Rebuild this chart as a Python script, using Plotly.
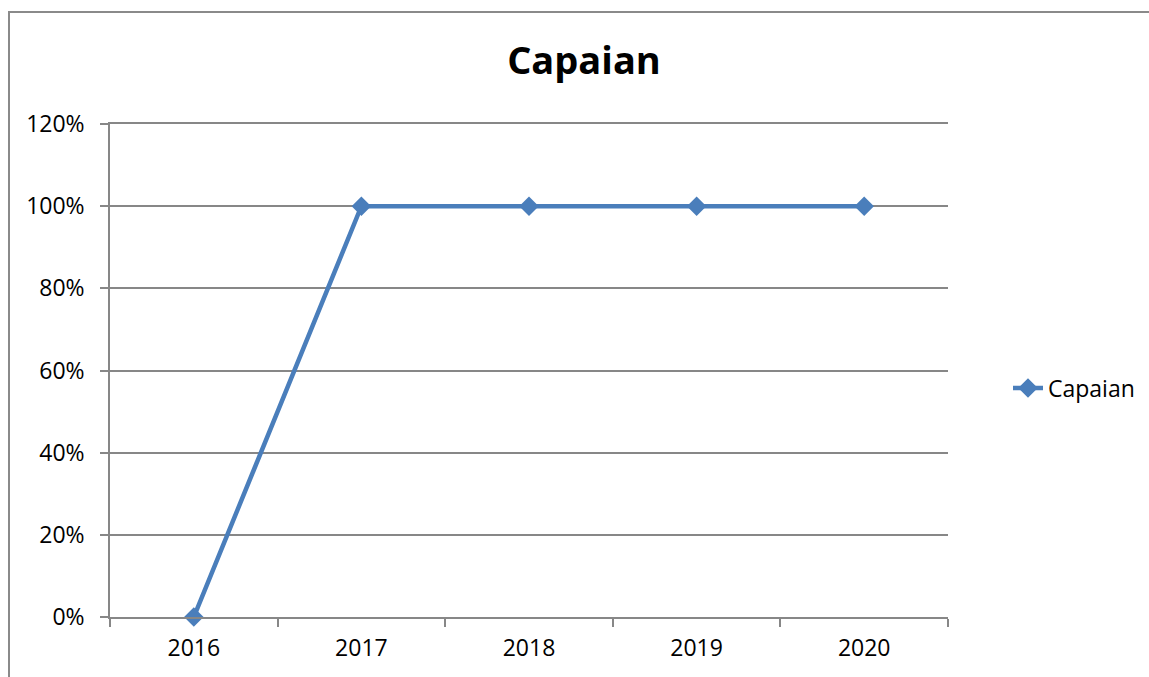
import plotly.graph_objects as go

years = ["2016", "2017", "2018", "2019", "2020"]
capaian = [0.0, 1.0, 1.0, 1.0, 1.0]
series_name = "Capaian"
chart_title = "Capaian"

W, H = 1149, 677
L, R, T, B = 110, 948, 124, 617

def px_x(x):
    return (x - L) / (R - L)

def px_y(y):
    return (B - y) / (B - T)

fig = go.Figure()
fig.add_trace(go.Scatter(
    x=years, y=capaian, name=series_name, mode="lines+markers",
    line=dict(color="#4A7EBB", width=4.5),
    marker=dict(symbol="diamond", size=15, color="#4A7EBB"),
    cliponaxis=False,
))

grid = "#878787"
fig.update_layout(
    width=W, height=H,
    margin=dict(l=L, r=W - R, t=T, b=H - B, autoexpand=False),
    paper_bgcolor="white", plot_bgcolor="white",
    font=dict(family="Open Sans", size=23, color="#000000"),
    title=dict(text="<b>" + chart_title + "</b>", font=dict(size=38, family="Open Sans"),
               x=px_x(584), xref="paper", xanchor="center",
               y=1 - 61 / H, yref="container", yanchor="middle"),
    showlegend=True,
    legend=dict(x=px_x(1008), xanchor="left", y=px_y(388), yanchor="middle",
                font=dict(size=23), bgcolor="rgba(0,0,0,0)"),
    xaxis=dict(type="category", range=[-0.5, 4.5], tickson="boundaries",
               ticks="outside", ticklen=8, tickcolor=grid, tickwidth=1.5,
               showline=True, mirror=True, linecolor=grid, linewidth=1.5, showgrid=False,
               ticklabelstandoff=10, zeroline=False, fixedrange=True),
    yaxis=dict(range=[0, 1.2], dtick=0.2, tickformat=".0%",
               ticks="outside", ticklen=8, tickcolor=grid, tickwidth=1.5,
               showline=True, linecolor=grid, linewidth=1.5,
               showgrid=True, gridcolor=grid, gridwidth=1.5,
               zeroline=False, ticklabelstandoff=11, fixedrange=True),
    shapes=[dict(type="rect", xref="paper", yref="paper",
                 x0=px_x(9), x1=1.6, y0=-0.5, y1=px_y(12),
                 line=dict(color="#8a8a8a", width=2), fillcolor="rgba(0,0,0,0)",
                 layer="below")],
)

fig.write_html("out.html")
